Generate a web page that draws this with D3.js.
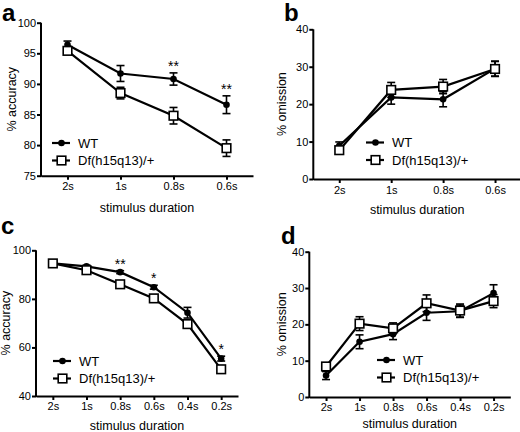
<!DOCTYPE html>
<html><head><meta charset="utf-8">
<script src="https://cdn.jsdelivr.net/npm/d3@7"></script>
<style>
html,body{margin:0;padding:0;background:#fff;}
svg{display:block;font-family:"Liberation Sans",Arial,Helvetica,sans-serif;}
</style></head>
<body>
<svg id="chart" width="520" height="432"></svg>
<script>
// ---- data ----
const catsAB = ["2s", "1s", "0.8s", "0.6s"];
const catsCD = ["2s", "1s", "0.8s", "0.6s", "0.4s", "0.2s"];
const seriesNames = ["WT", "Df(h15q13)/+"];

const aWT = [96.4, 91.7, 90.8, 86.6];
const aWTErr = [0.6, 1.3, 1.0, 1.45];
const aDf = [95.4, 88.5, 84.8, 79.5];
const aDfErr = [0.5, 0.95, 1.35, 1.35];
const aStars = ["", "", "**", "**"];

const bWT = [8.9, 21.8, 21.3, 29.5];
const bWTErr = [1.0, 1.8, 2.0, 2.0];
const bDf = [7.7, 23.8, 24.7, 29.4];
const bDfErr = [0.8, 2.0, 1.9, 2.0];

const cWT = [94.6, 93.4, 91.0, 84.8, 74.3, 55.4];
const cWTErr = [0.5, 0.5, 0.6, 0.8, 2.2, 1.0];
const cDf = [94.6, 91.8, 86.0, 80.2, 69.6, 51.0];
const cDfErr = [0.5, 0.6, 0.7, 0.9, 1.6, 0.8];
const cStars = ["", "", "**", "*", "", "*"];

const dWT = [5.9, 15.2, 17.3, 23.2, 23.6, 28.6];
const dWTErr = [1.1, 1.9, 1.5, 2.1, 1.7, 2.3];
const dDf = [8.4, 20.2, 18.9, 25.8, 23.8, 26.4];
const dDfErr = [0.9, 1.9, 1.5, 2.3, 1.8, 1.8];

const ticksAccA = [75, 80, 85, 90, 95, 100];
const ticksOm = [0, 10, 20, 30, 40];
const ticksAccC = [40, 60, 80, 100];

const xTitle = "stimulus duration";

// ---- drawing ----
const svg = d3.select("#chart");

function panel(o) {
  const g = svg.append("g");
  const x = d3.scalePoint().domain(o.cats).range(o.xr).padding(0.5);
  const y = d3.scaleLinear().domain(o.yd).range(o.yr);

  // axes
  const xa = g.append("g").attr("transform", `translate(0,${o.yr[0]})`)
    .call(d3.axisBottom(x).tickSize(4).tickSizeOuter(0).tickPadding(o.xPad));
  const ya = g.append("g").attr("transform", `translate(${o.xr[0]},0)`)
    .call(d3.axisLeft(y).tickValues(o.yticks).tickSize(4).tickSizeOuter(0).tickPadding(1));
  [xa, ya].forEach(a => {
    a.select(".domain").attr("stroke", "#000").attr("stroke-width", 2);
    a.selectAll(".tick line").attr("stroke", "#000").attr("stroke-width", 2);
    a.selectAll(".tick text").attr("fill", "#000").style("font-size", "11px");
  });
  ya.select(".domain").attr("d", `M0,${o.yr[0] + 1}V${o.yr[1]}`);

  // titles
  g.append("text").attr("x", (o.xr[0] + o.xr[1]) / 2)
    .attr("y", o.yr[0] + o.titleOff).attr("text-anchor", "middle")
    .style("font-size", "12.5px").text(xTitle);
  g.append("text")
    .attr("transform", `translate(${o.yTitleX},${(o.yr[0] + o.yr[1]) / 2}) rotate(-90)`)
    .attr("text-anchor", "middle").style("font-size", "12.5px").text(o.yTitle);
  g.append("text").attr("x", o.label[0]).attr("y", o.label[1])
    .style("font-size", "24px").style("font-weight", "bold").text(o.letter);

  const series = [
    {v: o.wt, e: o.wtErr, type: "circle"},
    {v: o.df, e: o.dfErr, type: "square"}
  ];
  const line = d3.line().x((d, i) => x(o.cats[i])).y(d => y(d));

  // error bars
  series.forEach(s => {
    s.v.forEach((v, i) => {
      const cx = x(o.cats[i]);
      const y1 = y(v + s.e[i]), y2 = y(v - s.e[i]);
      g.append("line").attr("x1", cx).attr("x2", cx).attr("y1", y1).attr("y2", y2)
        .attr("stroke", "#000").attr("stroke-width", 1.6);
      [y1, y2].forEach(yy => g.append("line").attr("x1", cx - 4).attr("x2", cx + 4)
        .attr("y1", yy).attr("y2", yy).attr("stroke", "#000").attr("stroke-width", 1.6));
    });
  });
  // lines
  series.forEach(s => {
    g.append("path").datum(s.v).attr("d", line).attr("fill", "none")
      .attr("stroke", "#000").attr("stroke-width", 2.2);
  });
  // markers
  function marker(type, cx, cy) {
    if (type === "circle") {
      g.append("circle").attr("cx", cx).attr("cy", cy).attr("r", 3.3).attr("fill", "#000");
    } else {
      g.append("rect").attr("x", cx - 4.3).attr("y", cy - 4.3).attr("width", 8.6).attr("height", 8.6)
        .attr("fill", "#fff").attr("stroke", "#000").attr("stroke-width", 1.6);
    }
  }
  series.forEach(s => s.v.forEach((v, i) => marker(s.type, x(o.cats[i]), y(v))));

  // significance stars
  if (o.stars) {
    o.stars.forEach((st, i) => {
      if (!st) return;
      g.append("text").attr("x", x(o.cats[i])).attr("y", y(o.wt[i] + o.wtErr[i]) - 2)
        .attr("text-anchor", "middle").style("font-size", "14px").text(st);
    });
  }

  // legend
  series.forEach((s, k) => {
    const ly = o.legend[1] + k * 17.5;
    const lx = o.legend[0];
    g.append("line").attr("x1", lx).attr("x2", lx + 18).attr("y1", ly).attr("y2", ly)
      .attr("stroke", "#000").attr("stroke-width", 2.2);
    marker(s.type, lx + 9.5, ly);
    g.append("text").attr("x", lx + 26).attr("y", ly + 4.6)
      .style("font-size", "13px").text(seriesNames[k]);
  });
}

panel({cats: catsAB, xr: [41, 253], yd: [75, 100], yr: [175.7, 22.7], yticks: ticksAccA,
  wt: aWT, wtErr: aWTErr, df: aDf, dfErr: aDfErr, stars: aStars, xPad: 3, titleOff: 36,
  yTitle: "% accuracy", yTitleX: 16, letter: "a", label: [2, 21], legend: [52, 143]});
panel({cats: catsAB, xr: [313.3, 521], yd: [0, 40], yr: [179, 29.3], yticks: ticksOm,
  wt: bWT, wtErr: bWTErr, df: bDf, dfErr: bDfErr, xPad: 3, titleOff: 35,
  yTitle: "% omission", yTitleX: 286, letter: "b", label: [284, 21], legend: [366, 142.5]});
panel({cats: catsCD, xr: [36, 238], yd: [40, 100], yr: [396, 250.3], yticks: ticksAccC,
  wt: cWT, wtErr: cWTErr, df: cDf, dfErr: cDfErr, stars: cStars, xPad: 2, titleOff: 34,
  yTitle: "% accuracy", yTitleX: 9.5, letter: "c", label: [1, 234], legend: [53, 361]});
panel({cats: catsCD, xr: [309.3, 510.3], yd: [0, 40], yr: [397, 251.7], yticks: ticksOm,
  wt: dWT, wtErr: dWTErr, df: dDf, dfErr: dDfErr, xPad: 2, titleOff: 31,
  yTitle: "% omission", yTitleX: 286, letter: "d", label: [281, 244], legend: [377, 360]});
</script>
</body></html>
